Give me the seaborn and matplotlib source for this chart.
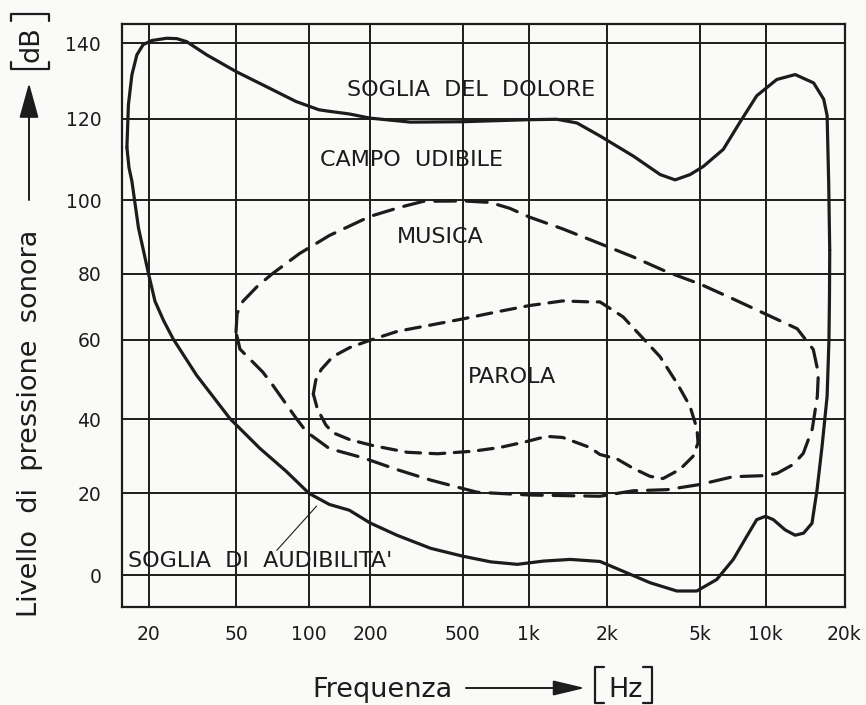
import numpy as np
import matplotlib
matplotlib.use("Agg")
import matplotlib.pyplot as plt
from matplotlib.lines import Line2D
import seaborn as sns

# ---------------------------------------------------------------- data
freq_ticks = [20, 50, 100, 200, 500, 1000, 2000, 5000, 10000, 20000]
freq_labels = ["20", "50", "100", "200", "500", "1k", "2k", "5k", "10k", "20k"]
level_ticks = [0, 20, 40, 60, 80, 100, 120, 140]

# soglia del dolore (upper edge of the audible field), left to right
pain_hz = [15.95, 16.2, 16.8, 17.7, 18.9, 20.7, 24.2, 26.9, 29.8, 36.8, 50, 68.7,
           88.3, 112, 126, 158, 200, 299, 500, 1000, 1286, 1533, 1880, 2604,
           3388, 3928, 4554, 5204, 6418, 7650, 9119, 11040, 12973, 15253,
           16660, 17170, 17411, 17568]
pain_db = [113, 123.7, 131.6, 136.9, 139.6, 140.7, 141.3, 141.2, 140.4, 136.9,
           132.5, 128.1, 124.6, 122.4, 122.0, 121.3, 120.2, 119.2, 119.3, 119.8,
           119.9, 119.0, 115.8, 110.8, 106.3, 105.0, 106.3, 108.3, 112.5, 119.2,
           126.1, 130.4, 131.7, 129.5, 125.2, 120.9, 104.2, 86.4]

# soglia di audibilita' (lower edge of the audible field), left to right
aud_hz = [15.95, 16.3, 16.8, 18.0, 20.0, 21.4, 23.4, 25.9, 33.1, 46.9, 62.6,
          80.4, 100, 126, 158, 200, 261, 365, 500, 673, 889, 1144, 1446, 1880,
          2440, 3070, 3995, 4865, 5990, 7129, 8209, 9119, 10000, 10711, 11876,
          12973, 13962, 15033, 15714, 16426, 17170, 17450, 17530, 17568]
aud_db = [113, 108, 104.7, 92.5, 80, 71.7, 65.9, 60.3, 51.1, 40.2, 32.2, 26.0,
          20.0, 17.3, 15.9, 12.8, 9.8, 6.6, 4.7, 3.3, 2.7, 3.5, 3.9, 3.4, 0.6,
          -1.8, -3.8, -3.8, -1.0, 3.9, 9.5, 13.6, 14.4, 13.6, 11.1, 9.8, 10.3,
          12.7, 20.9, 32.7, 45.8, 60.0, 73.0, 86.4]

# campo della musica (closed contour)
music_hz = [50, 50.5, 53.4, 61.6, 70.9, 91.4, 126, 200, 270, 339, 507, 668, 821,
            1009, 1353, 1879, 2587, 3624, 5026, 7109, 9741, 13207, 15210, 15900,
            15757, 15074, 13927, 12746, 11068, 9950, 7109, 5026, 3624, 2587,
            1879, 1009, 584, 495, 364, 262, 185, 126, 97.7, 88.9, 70.9, 64.5,
            51.9, 50]
music_db = [62.4, 68.0, 71.7, 76.4, 80.1, 85.5, 90.4, 95.6, 98.1, 99.7, 99.8,
            99.4, 97.8, 95.4, 92.2, 88.2, 84.6, 80.5, 76.9, 72.4, 68.2, 63.4,
            57.6, 51.6, 45.8, 37.4, 30.8, 27.8, 25.4, 24.8, 24.5, 22.4, 21.0,
            20.7, 19.3, 19.6, 20.3, 21.4, 23.6, 26.4, 29.6, 32.1, 36.6, 40.1,
            48.6, 51.9, 57.7, 62.4]

# campo della parola (closed contour)
speech_hz = [105, 108, 115, 131, 159, 199, 262, 364, 505, 718, 1009, 1353, 1719,
             1879, 2343, 2857, 3381, 4002, 4550, 4878, 4927, 4688, 4122, 3483,
             3062, 2587, 2208, 1879, 1719, 1353, 1173, 980, 741, 560, 390, 289,
             206, 159, 131, 121, 110, 105]
speech_db = [46.4, 49.9, 52.6, 55.8, 58.1, 59.9, 62.6, 64.5, 66.4, 68.5, 70.4,
             71.8, 71.5, 71.5, 67.0, 60.5, 55.8, 49.1, 43.3, 37.4, 33.6, 30.0,
             26.5, 24.0, 24.6, 26.8, 29.3, 30.5, 32.4, 35.1, 35.4, 34.0, 32.4,
             31.4, 30.7, 31.1, 32.9, 34.5, 36.4, 38.5, 42.6, 46.4]

# ------------------------------------------------------ chart-paper scales
# the printed paper has unevenly spaced columns and rows; map values
# piecewise onto it
_col_hz = [10] + freq_ticks + [40000]
_col_pos = [-66.2, 0, 87.5, 160.5, 221.5, 314, 380, 458.5, 551, 617, 696, 774.5]
_row_db = [-20] + level_ticks + [160]
_row_pos = [-82, 0, 82, 156, 235.3, 301.5, 375, 456.3, 532, 607]
_log_col = np.log10(_col_hz)


def x_fwd(f):
    f = np.asarray(f, dtype=float)
    return np.interp(np.log10(np.clip(f, 1e-6, None)), _log_col, _col_pos)


def x_inv(p):
    return 10 ** np.interp(np.asarray(p, dtype=float), _col_pos, _log_col)


def y_fwd(v):
    return np.interp(np.asarray(v, dtype=float), _row_db, _row_pos)


def y_inv(p):
    return np.interp(np.asarray(p, dtype=float), _row_pos, _row_db)


# --------------------------------------------------------------- styling
sns.set_theme(style="white")
plt.rcParams["font.family"] = ["DejaVu Sans"]
ink = "#1c1c1c"
paper = "#fafaf8"

W, H = 866, 705
fig = plt.figure(figsize=(W / 100, H / 100), dpi=100, facecolor=paper)
ax = fig.add_axes([122 / W, 1 - 607 / H, (844.5 - 122) / W, (607 - 24) / H])
ax.set_facecolor(paper)

ax.set_xscale("function", functions=(x_fwd, x_inv))
ax.set_yscale("function", functions=(y_fwd, y_inv))
ax.set_xlim(15.15, 20000)
ax.set_ylim(-7.7, 145.1)

ax.set_xticks(freq_ticks)
ax.set_xticklabels(freq_labels)
ax.set_yticks(level_ticks)
ax.set_yticklabels([str(v) for v in level_ticks])
ax.minorticks_off()
ax.tick_params(axis="x", length=0, pad=13, labelsize=13.5, labelcolor=ink)
ax.tick_params(axis="y", length=0, pad=15, labelsize=13.5, labelcolor=ink)
ax.grid(True, color=ink, lw=1.4)
for s in ax.spines.values():
    s.set_visible(True)
    s.set_color(ink)
    s.set_linewidth(1.6)

# ---------------------------------------------------------------- curves
line_kw = dict(color=ink, lw=2.3, sort=False, estimator=None, ax=ax,
               solid_capstyle="round", solid_joinstyle="round",
               dash_capstyle="round")
sns.lineplot(x=pain_hz, y=pain_db, **line_kw)
sns.lineplot(x=aud_hz, y=aud_db, **line_kw)
sns.lineplot(x=music_hz, y=music_db, linestyle=(0, (6.5, 3.4)), **line_kw)
sns.lineplot(x=speech_hz, y=speech_db, linestyle=(0, (4.6, 3.0)), **line_kw)

# ---------------------------------------------------------- area labels
lab = dict(fontsize=16, color=ink, va="center")
ax.text(547, 127.7, "SOGLIA  DEL  DOLORE", ha="center", **lab)
ax.text(302, 109.8, "CAMPO  UDIBILE", ha="center", **lab)
ax.text(400, 90.0, "MUSICA", ha="center", **lab)
ax.text(838, 50.6, "PAROLA", ha="center", **lab)
ax.text(16.1, 3.4, "SOGLIA  DI  AUDIBILITA'", ha="left", **lab)
# leader from the label to the threshold curve
ax.plot([73.6, 109], [6.1, 16.9], color=ink, lw=0.8)

# ------------------------------------------------------------ axis titles
def fx(px):
    return px / W


def fy(py):
    return 1 - py / H


# vertical title:  Livello di pressione sonora  --->  [dB]
fig.text(fx(30), fy(617), "Livello  di  pressione  sonora", rotation=90,
         ha="center", va="bottom", fontsize=19.5, color=ink)
ax.annotate("", xy=(29, H - 83), xytext=(29, H - 200), xycoords="figure pixels",
            textcoords="figure pixels",
            arrowprops=dict(arrowstyle="-|>,head_length=1.45,head_width=0.4",
                            mutation_scale=15, lw=1.4, color=ink,
                            shrinkA=0, shrinkB=0))
fig.text(fx(31), fy(44), "dB", rotation=90, ha="center", va="center",
         fontsize=19.5, color=ink)
for pts in ([(11, 62), (11, 69), (49, 69), (49, 62)],
            [(11, 21), (11, 14), (49, 14), (49, 21)]):
    xs, ys = zip(*pts)
    fig.add_artist(Line2D([fx(v) for v in xs], [fy(v) for v in ys],
                          transform=fig.transFigure, color=ink, lw=1.6))

# horizontal title:  Frequenza  --->  [Hz]
fig.text(fx(312.5), fy(697), "Frequenza", ha="left", va="baseline",
         fontsize=19.5, color=ink)
ax.annotate("", xy=(585, H - 688), xytext=(466, H - 688),
            xycoords="figure pixels", textcoords="figure pixels",
            arrowprops=dict(arrowstyle="-|>,head_length=1.3,head_width=0.31",
                            mutation_scale=15, lw=1.4, color=ink,
                            shrinkA=0, shrinkB=0))
fig.text(fx(626), fy(697), "Hz", ha="center", va="baseline",
         fontsize=19.5, color=ink)
for pts in ([(604, 667), (595, 667), (595, 703), (604, 703)],
            [(643, 667), (652, 667), (652, 703), (643, 703)]):
    xs, ys = zip(*pts)
    fig.add_artist(Line2D([fx(v) for v in xs], [fy(v) for v in ys],
                          transform=fig.transFigure, color=ink, lw=1.6))

fig.savefig("out.png", dpi=100, facecolor=paper)
